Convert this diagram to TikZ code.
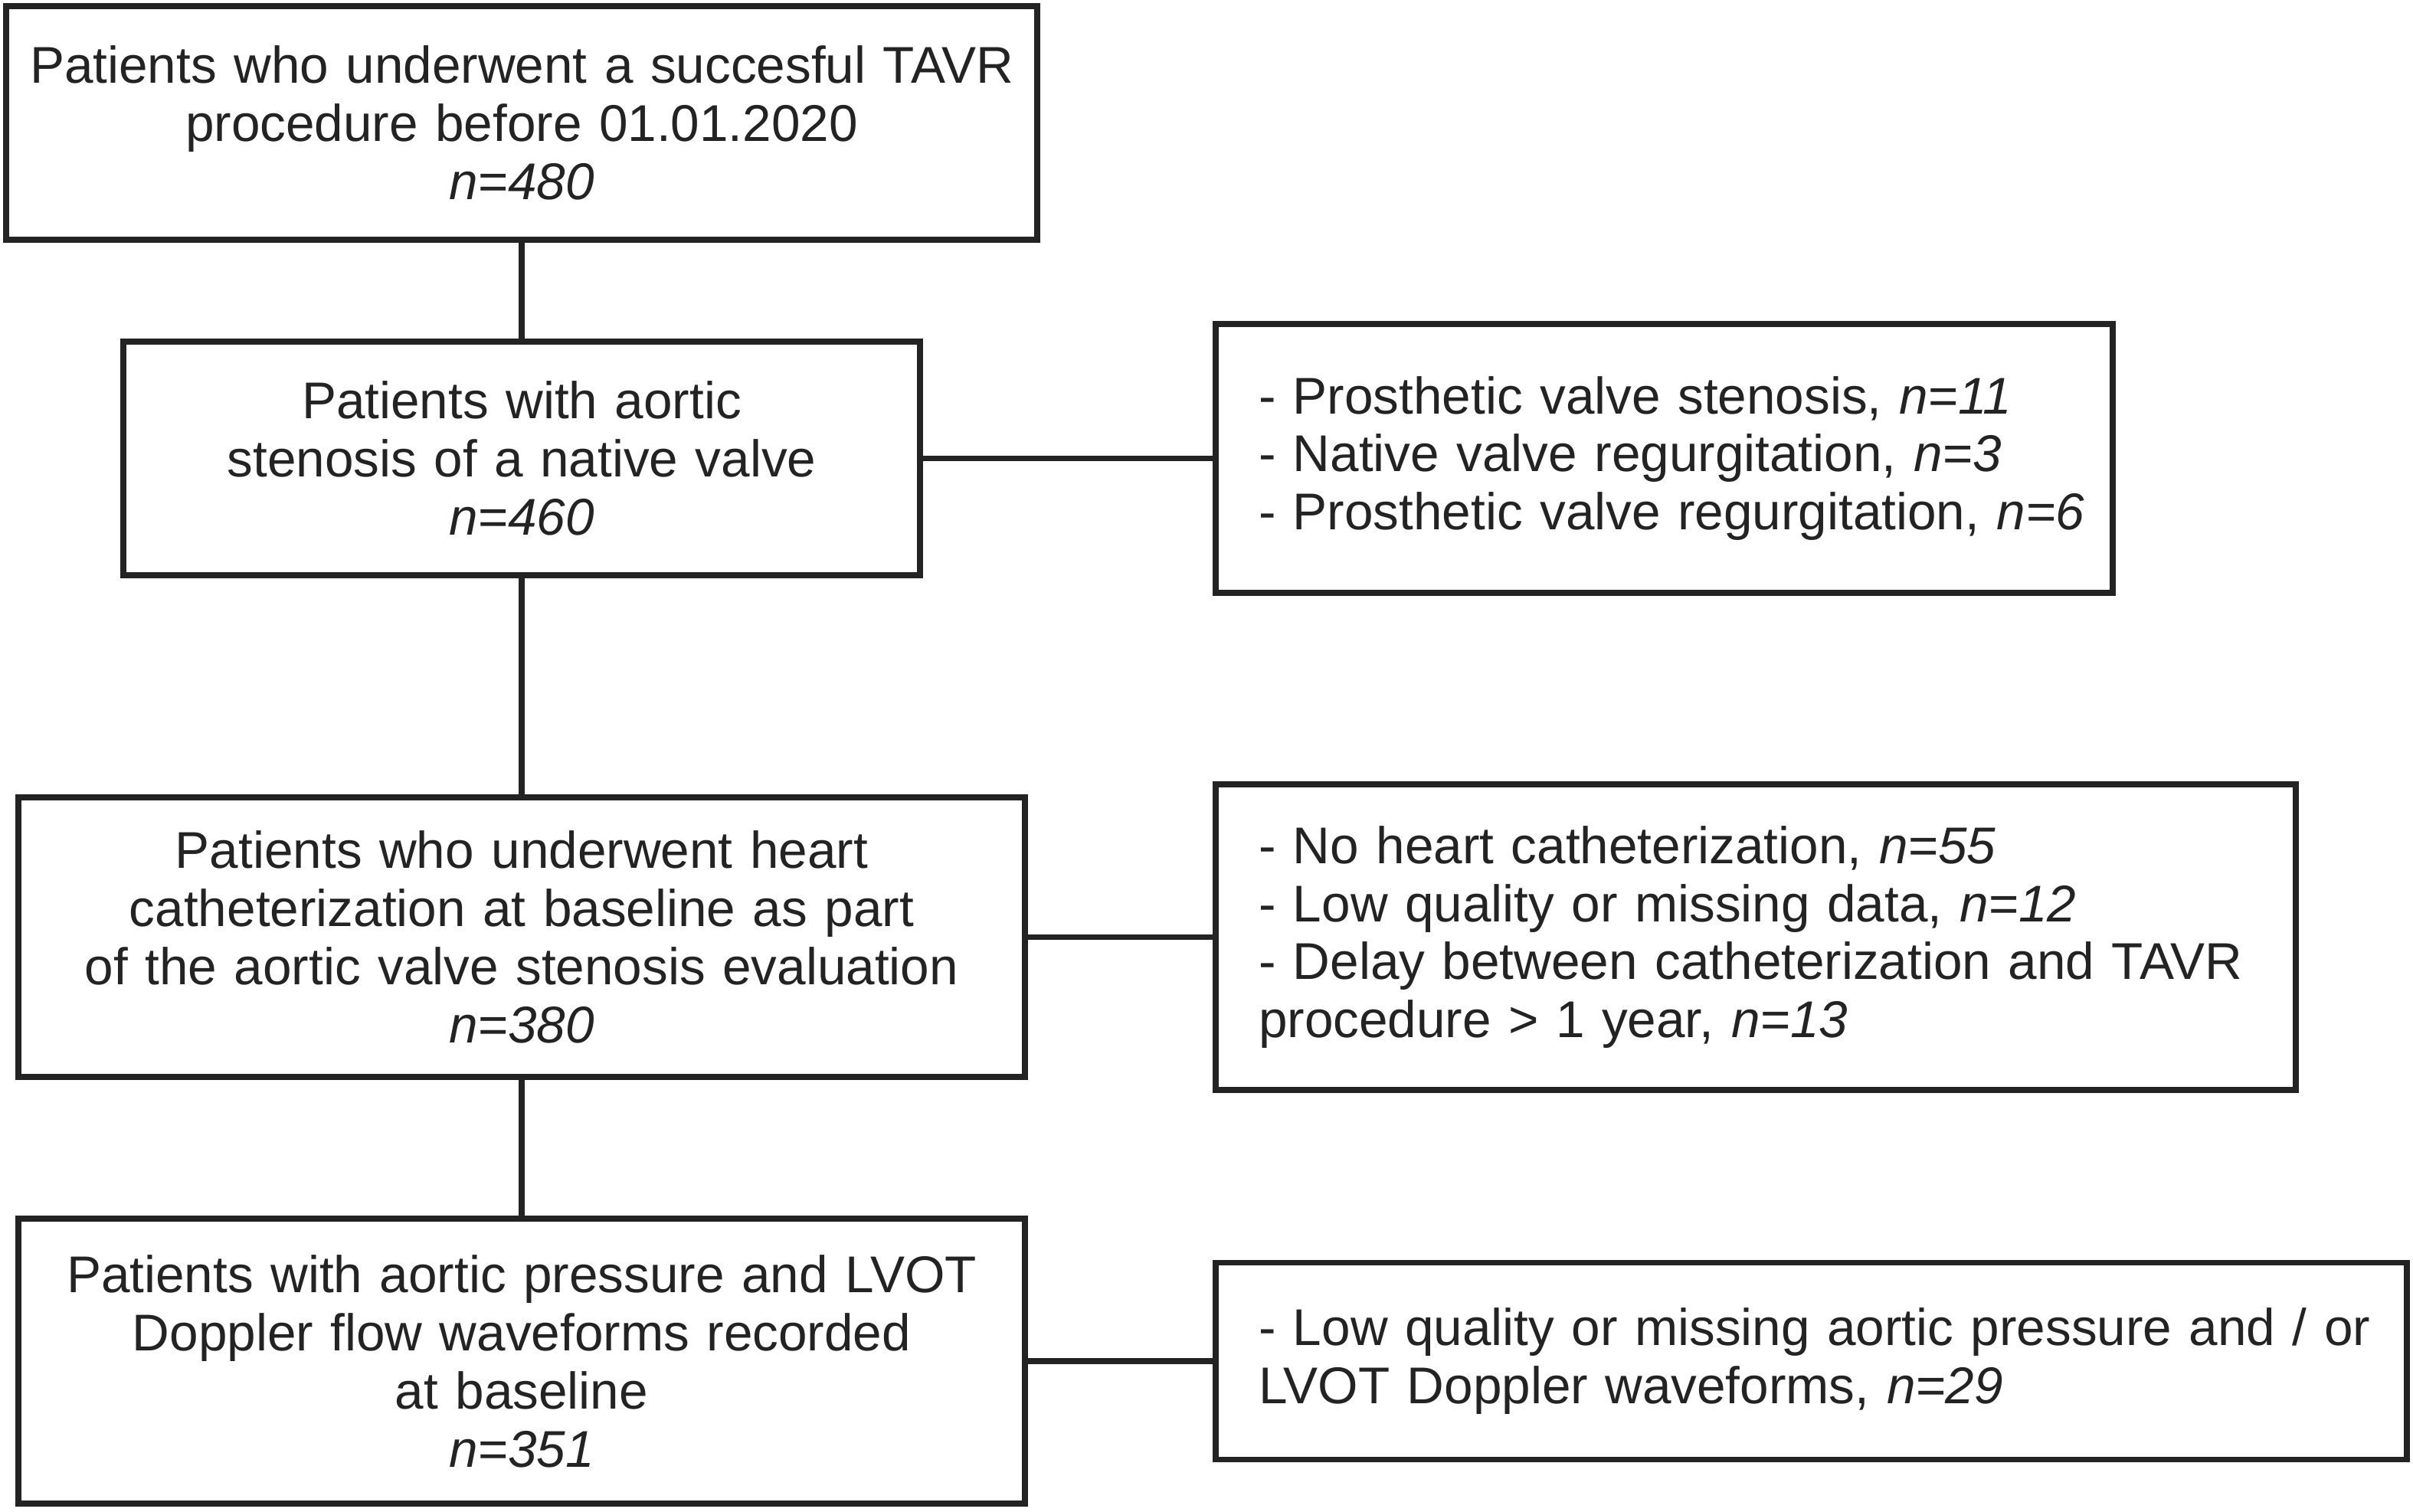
\documentclass[tikz,border=0pt]{standalone}
\usepackage{fontspec}
\setmainfont{Liberation Sans}
\usetikzlibrary{positioning}
\definecolor{flowgray}{RGB}{35,35,35}
\newcommand{\FlowFontSize}{\fontsize{19.2}{21.6}\selectfont}
\newcommand{\FlowRule}{0.075cm}

\tikzset{
	stagebox/.style={draw=flowgray, line width=\FlowRule, inner sep=0pt, outer sep=0pt,
		align=center, text=flowgray, font=\FlowFontSize},
	% exclusion boxes: text starts 0.56cm in from the left border
	exclbox/.style={stagebox, align=left, execute at begin node={\leftskip=0.56cm}},
	flowline/.style={draw=flowgray, line width=\FlowRule}
}

\begin{document}
\begin{tikzpicture}
	\useasboundingbox (0,0) rectangle (31.5,-19.73);
	% main column
	\node[stagebox, text width=13.46cm, minimum height=3.05cm] (total) at (6.81,-1.605)
		{Patients who underwent a succesful TAVR\\ procedure before 01.01.2020\\ \textit{n=480}};
	\node[stagebox, text width=10.40cm, minimum height=3.05cm, below=1.33cm of total] (native)
		{Patients with aortic\\ stenosis of a native valve\\ \textit{n=460}};
	\node[stagebox, text width=13.14cm, minimum height=3.65cm, below=2.90cm of native] (cath)
		{Patients who underwent heart\\ catheterization at baseline as part\\ of the aortic valve stenosis evaluation\\ \textit{n=380}};
	\node[stagebox, text width=13.14cm, minimum height=3.72cm, below=1.85cm of cath] (doppler)
		{Patients with aortic pressure and LVOT\\ Doppler flow waveforms recorded\\ at baseline\\ \textit{n=351}};
	% exclusions
	\node[exclbox, text width=11.71cm, minimum height=3.51cm, right=3.86cm of native] (exclvalve)
		{- Prosthetic valve stenosis, \textit{n=11}\\ - Native valve regurgitation, \textit{n=3}\\ - Prosthetic valve regurgitation, \textit{n=6}};
	\node[exclbox, text width=14.10cm, minimum height=3.99cm, right=2.49cm of cath] (exclcath)
		{- No heart catheterization, \textit{n=55}\\ - Low quality or missing data, \textit{n=12}\\ - Delay between catheterization and TAVR\\ procedure > 1 year, \textit{n=13}};
	\node[exclbox, text width=15.55cm, minimum height=2.57cm, right=2.49cm of doppler] (excldoppler)
		{- Low quality or missing aortic pressure and / or\\ LVOT Doppler waveforms, \textit{n=29}};
	% connectors
	\draw[flowline] (total) -- (native);
	\draw[flowline] (native) -- (cath);
	\draw[flowline] (cath) -- (doppler);
	\draw[flowline] (native.east) -- (exclvalve.west);
	\draw[flowline] (cath.east) -- (exclcath.west);
	\draw[flowline] (doppler.east) -- (excldoppler.west);
\end{tikzpicture}
\end{document}
